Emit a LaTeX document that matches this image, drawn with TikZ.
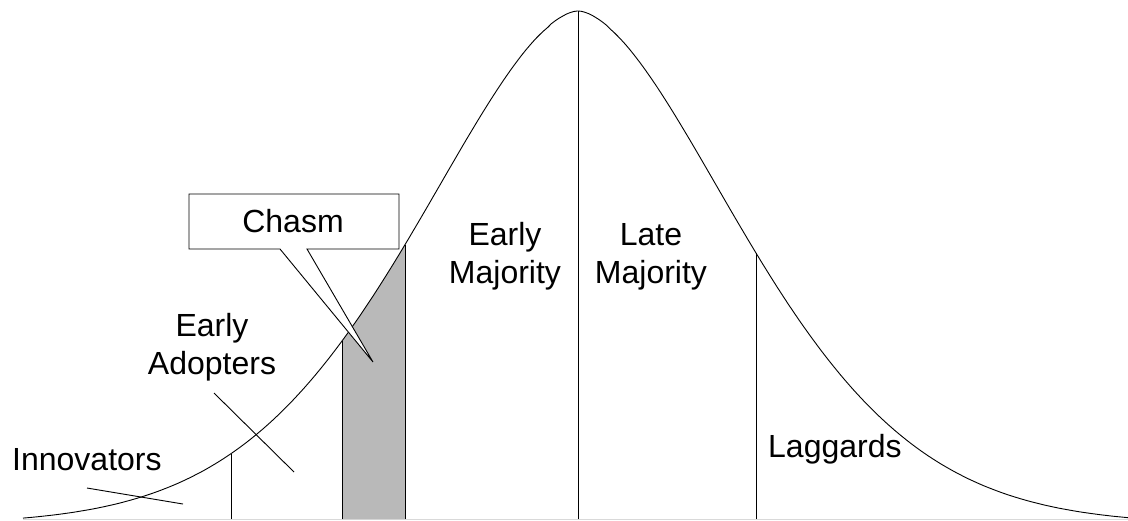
\documentclass[tikz,border=0pt]{standalone}
\usepackage{fontspec}
\setmainfont{Liberation Sans}
\begin{document}
\begin{tikzpicture}[x=1pt,y=-1pt,
  curve/.style={line width=0.9pt},
  divider/.style={line width=0.9pt},
  chasmfill/.style={fill=gray!55},
  callout/.style={fill=white,draw,line width=0.9pt},
  label/.style={inner sep=0pt,align=center,font=\fontsize{32}{37.5}\selectfont},
  declare function={bell(\x)=519-513.3*(exp(-exp(1.7*ln(abs(\x-578)/232+0.0001)))-0.0104);}]
 \useasboundingbox (0,0) rectangle (1128,520);

 % ---- base and curve ----
 \draw[gray!30,line width=1pt] (23,519) -- (1128,519);
 \fill[chasmfill] (342,519) -- plot[domain=342:405,samples=25] (\x,{bell(\x)}) -- (405,519) -- cycle;
 \draw[curve] plot[domain=23:1128,samples=300] (\x,{bell(\x)});

 % ---- segment dividers ----
 \foreach \xd in {231,342,405,578,756}
   \draw[divider] (\xd,519) -- (\xd,{bell(\xd)});

 % ---- leader lines ----
 \coordinate (innovA) at (87,488);
 \coordinate (innovB) at (183,504);
 \coordinate (adoptA) at (214,393);
 \coordinate (adoptB) at (294,472);
 \draw[divider] (innovA) -- (innovB);
 \draw[divider] (adoptA) -- (adoptB);

 % ---- chasm callout ----
 \coordinate (boxNW) at (189,194);
 \coordinate (boxSE) at (399,249);
 \coordinate (tip) at (373,362);
 \draw[callout] (boxNW) -- (boxSE |- boxNW) -- (boxSE) -- (307,249) -- (tip) -- (280,249) -- (boxNW |- boxSE) -- cycle;
 \node[label,anchor=base] (chasm) at (293,232) {Chasm};

 % ---- segment labels (base = last line) ----
 \node[label,anchor=base west] (innov) at (12,470) {Innovators};
 \node[label,anchor=base] (adopt) at (212,374) {Early\\Adopters};
 \node[label,anchor=base] (earlymaj) at (505,283) {Early\\Majority};
 \node[label,anchor=base] (latemaj) at (651,283) {Late\\Majority};
 \node[label,anchor=base west] (lagg) at (768,457) {Laggards};
\end{tikzpicture}
\end{document}
